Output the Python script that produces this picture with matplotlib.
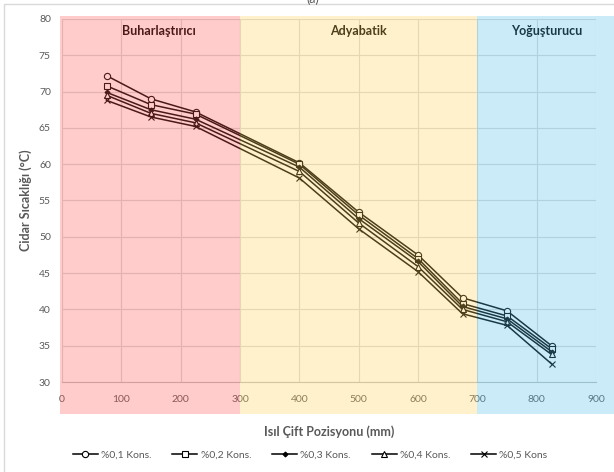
import numpy as np
import matplotlib
matplotlib.use('Agg')
import matplotlib.pyplot as plt
from matplotlib.patches import Rectangle
from matplotlib.transforms import blended_transform_factory

# thermocouple positions along the pipe (mm)
positions = [75, 150, 225, 400, 500, 600, 675, 750, 825]

# wall temperature (C) for each concentration
kons_01 = [72.2, 69.0, 67.2, 60.2, 53.4, 47.5, 41.6, 39.8, 35.0]
kons_02 = [70.8, 68.2, 66.9, 60.0, 53.0, 47.0, 40.8, 39.1, 34.6]
kons_03 = [69.9, 67.5, 66.2, 59.6, 52.5, 46.6, 40.4, 38.7, 34.2]
kons_04 = [69.5, 67.0, 65.7, 59.0, 51.9, 45.9, 40.0, 38.3, 33.8]
kons_05 = [68.8, 66.5, 65.2, 58.1, 51.1, 45.2, 39.4, 37.8, 32.5]

labels = ['%0,1 Kons.', '%0,2 Kons.', '%0,3 Kons.', '%0,4 Kons.', '%0,5 Kons']
series = [kons_01, kons_02, kons_03, kons_04, kons_05]
markers = ['o', 's', 'D', '^', 'x']
msizes = [4.5, 4.5, 2.5, 4.5, 4.5]

# sections of the heat pipe
sections = ['Buharlaştırıcı', 'Adyabatik', 'Yoğuşturucu']
section_edges = [(-3, 300), (300, 700), (700, 940)]
section_colors = ['#FF5555', '#FFD355', '#55C0EE']
section_text_x = [163, 500, 817]

plt.rcParams['font.family'] = ['Lato', 'DejaVu Sans']
gray = '#595959'

fig = plt.figure(figsize=(6.14, 4.72), dpi=100)
ax = fig.add_axes([62/614, 1 - 382/472, 534/614, 363/472])

for vals, lab, m, ms in zip(series, labels, markers, msizes):
	face = 'black' if m == 'D' else 'white'
	ax.plot(positions, vals, color='black', lw=1.1, marker=m, markersize=ms,
			markerfacecolor=face, markeredgecolor='black', markeredgewidth=0.8, label=lab)

ax.set_xlim(0, 900)
ax.set_ylim(30, 80)
ax.set_xticks(np.arange(0, 1000, 100))
ax.set_yticks(np.arange(30, 85, 5))
ax.grid(True, color='#D9D9D9', lw=0.8)
ax.set_axisbelow(True)
for s in ['top', 'right', 'left']:
	ax.spines[s].set_visible(False)
ax.spines['bottom'].set_color('#BFBFBF')
ax.tick_params(length=0, labelsize=7.5, labelcolor=gray)
ax.tick_params(axis='x', pad=9)
ax.tick_params(axis='y', pad=8)

ax.set_xlabel('Isıl Çift Pozisyonu (mm)', fontsize=9, fontweight='bold', color=gray, labelpad=16)
ax.set_ylabel('Cidar Sıcaklığı (°C)', fontsize=9, fontweight='bold', color=gray, labelpad=5)

for name, tx in zip(sections, section_text_x):
	ax.text(tx, 78.4, name, ha='center', va='center', fontsize=9, fontweight='bold', color='black')

# translucent section bands laid over the whole plot area
trans = blended_transform_factory(ax.transData, fig.transFigure)
for (x0, x1), c in zip(section_edges, section_colors):
	rect = Rectangle((x0, 1 - 414/472), x1 - x0, (414 - 16)/472, transform=trans,
					 facecolor=c, edgecolor='none', alpha=0.3, zorder=5)
	fig.patches.append(rect)

fig.legend(loc='center', bbox_to_anchor=(0.505, 1 - 455/472), ncol=5, frameon=False,
		   fontsize=7.5, labelcolor=gray, handlelength=2.4, columnspacing=2.0, handletextpad=0.3)

# chart border and caption
fig.patches.append(Rectangle((4/614, -0.01), 1, 1 - 4/472 + 0.01, transform=fig.transFigure,
							 facecolor='none', edgecolor='#D9D9D9', lw=1))
fig.text(0.51, 1 - 5/472, '(a)', ha='center', va='bottom', fontsize=9, color=gray)

fig.savefig('out.png', dpi=100)
